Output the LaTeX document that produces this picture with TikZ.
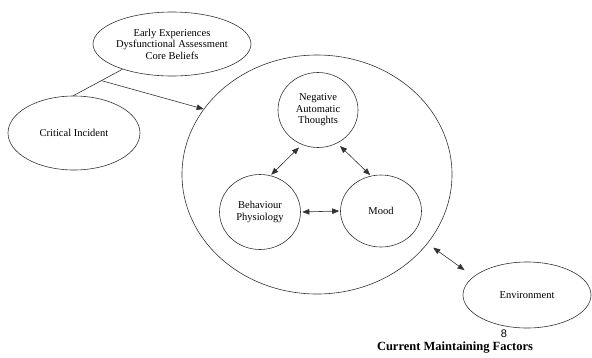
\documentclass[tikz,border=0pt]{standalone}
\usepackage{fontspec}
\setmainfont{Liberation Serif}
\newfontfamily\digitfont{Liberation Sans}
\usetikzlibrary{shapes.geometric,arrows.meta,calc}
\tikzset{
  oval/.style={ellipse, draw=black!80, line width=0.6pt, inner sep=0pt, align=center,
               font=\fontsize{10.5}{11.5}\selectfont},
  link/.style={draw=black!80, line width=0.6pt},
  dbl/.style={link, {Triangle[length=7pt,width=5.5pt]}-{Triangle[length=7pt,width=5.5pt]}},
  sgl/.style={link, -{Triangle[length=7pt,width=5.5pt]}}
}
\begin{document}
\begin{tikzpicture}[x=1pt,y=-1pt]
\useasboundingbox (0,0) rectangle (592,357);
\node[oval, minimum width=134pt, minimum height=64pt] (early) at (172,44)
  {Early Experiences\\Dysfunctional Assessment\\Core Beliefs};
\node[oval, minimum width=132pt, minimum height=74pt] (crit) at (74,133) {Critical Incident};
\node[oval, minimum width=270pt, minimum height=239pt] (big) at (317,174.5) {};
\node[oval, minimum width=80pt, minimum height=75pt] (nat) at (318,110)
  {Negative\\Automatic\\Thoughts};
\node[oval, minimum width=81pt, minimum height=75pt] (beh) at (260,212)
  {Behaviour\\Physiology};
\node[oval, minimum width=81pt, minimum height=72pt] (mood) at (381,211) {Mood};
\node[oval, minimum width=128pt, minimum height=66pt] (env) at (527,295) {Environment};
\node[font=\digitfont\fontsize{11}{12}\selectfont] (pg) at (504,334) {8};
\node[font=\bfseries\fontsize{12.5}{13}\selectfont] (cap) at (455,348) {Current Maintaining Factors};

\draw[link] (early.207) -- (crit.91);
\coordinate (split) at ($(early.207)!0.43!(crit.91)$);
\draw[sgl] (split) -- (big.150);
\draw[dbl, shorten <=4pt, shorten >=1pt] (nat.245) -- (beh.74);
\draw[dbl, shorten <=4pt, shorten >=1pt] (nat.300) -- (mood.106);
\draw[dbl, shorten <=1.5pt, shorten >=1pt] (beh.east) -- (mood.west);
\draw[dbl, shorten <=7pt, shorten >=11pt] (big.-32) -- (env.161);
\end{tikzpicture}
\end{document}
